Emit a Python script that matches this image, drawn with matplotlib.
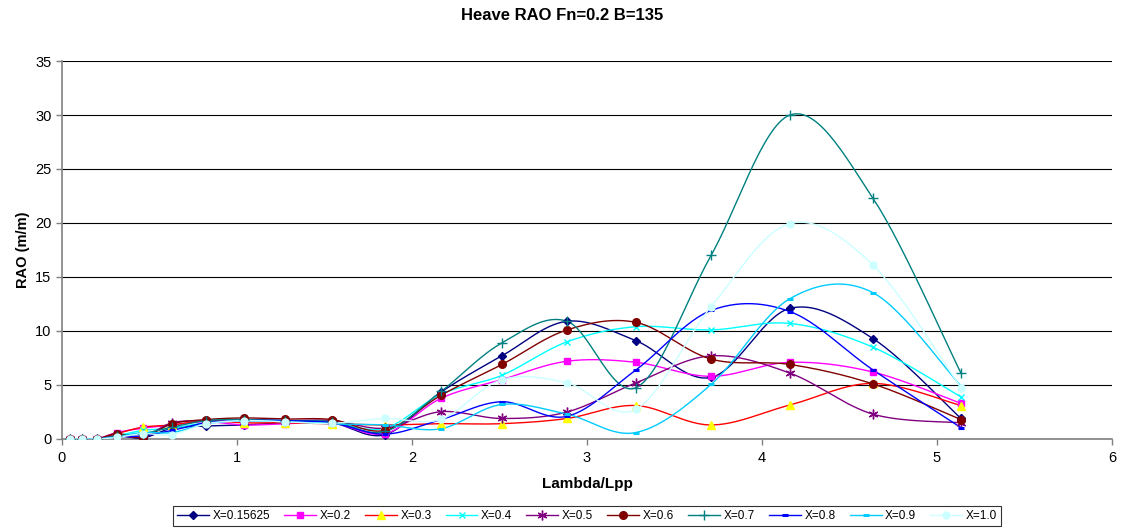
import numpy as np
import matplotlib
matplotlib.use("Agg")
import matplotlib.pyplot as plt

plt.rcParams['font.family'] = ['Liberation Sans', 'DejaVu Sans']

# -------------------------
# DATA
# -------------------------
lam = [0.046, 0.114, 0.2, 0.314, 0.463, 0.629, 0.823, 1.04, 1.274, 1.543,
       1.846, 2.166, 2.514, 2.886, 3.28, 3.709, 4.16, 4.634, 5.137]

labels = ["X=0.15625", "X=0.2", "X=0.3", "X=0.4", "X=0.5",
          "X=0.6", "X=0.7", "X=0.8", "X=0.9", "X=1.0"]

x_015625 = [0, 0, 0, 0.3, 0.1, 1.0, 1.2, 1.3, 1.5, 1.5, 0.4, 4.35, 7.7, 10.9, 9.1, 5.7, 12.1, 9.3, 1.9]
x_02 = [0, 0, 0, 0.6, 1.0, 1.3, 1.6, 1.3, 1.4, 1.5, 0.5, 3.77, 5.5, 7.2, 7.1, 5.8, 7.1, 6.2, 3.3]
x_03 = [0, 0, 0, 0.5, 1.1, 1.3, 1.7, 1.5, 1.5, 1.4, 1.3, 1.42, 1.42, 1.9, 3.1, 1.3, 3.15, 5.15, 3.1]
x_04 = [0, 0, 0, 0.3, 0.8, 1.0, 1.5, 1.7, 1.6, 1.5, 1.0, 4.15, 5.9, 9.0, 10.4, 10.1, 10.7, 8.5, 3.9]
x_05 = [0, 0, 0, 0.3, 0.2, 1.5, 1.7, 1.8, 1.7, 1.7, 1.0, 2.53, 1.9, 2.5, 5.2, 7.7, 6.1, 2.3, 1.5]
x_06 = [0, 0, 0, 0.5, 0.15, 1.4, 1.8, 1.95, 1.85, 1.8, 0.8, 4.05, 6.9, 10.1, 10.8, 7.4, 6.9, 5.1, 1.8]
x_07 = [0, 0, 0, 0.3, 0.5, 1.1, 1.7, 1.8, 1.7, 1.6, 0.7, 4.4, 8.9, 10.9, 4.75, 17.0, 30.0, 22.3, 6.1]
x_08 = [0, 0, 0, 0.2, 0.3, 0.8, 1.5, 1.7, 1.7, 1.5, 0.45, 1.8, 3.45, 2.1, 6.4, 11.9, 11.8, 6.4, 1.05]
x_09 = [0, 0, 0, 0.2, 0.6, 0.6, 1.4, 1.7, 1.6, 1.4, 1.3, 0.95, 3.2, 2.3, 0.6, 5.05, 13.0, 13.55, 4.9]
x_10 = [0, 0, 0, 0.15, 0.5, 0.4, 1.4, 1.7, 1.6, 1.45, 1.9, 1.82, 5.5, 5.2, 2.75, 12.25, 19.95, 16.1, 4.75]

series = [x_015625, x_02, x_03, x_04, x_05, x_06, x_07, x_08, x_09, x_10]

# -------------------------
# STYLES (Excel defaults)
# -------------------------
line_colors = ["#000080", "#FF00FF", "#FF0000", "#00FFFF", "#800080",
               "#800000", "#008080", "#0000FF", "#00CCFF", "#CCFFFF"]
face_colors = ["#000080", "#FF00FF", "#FFFF00", "#00FFFF", "#800080",
               "#800000", "#008080", "#0000FF", "#00CCFF", "#CCFFFF"]
markers = ["D", "s", "^", "x", (6, 2, 0), "o", "+", "_", "_", "o"]
msizes = [4.5, 5, 6, 5, 7, 5.5, 7, 5, 5, 5]


def smooth(x, y, n=30):
    # Excel-style smoothed line: bezier through points
    x = np.asarray(x, float)
    y = np.asarray(y, float)
    px = np.concatenate([[x[0]], x, [x[-1]]])
    py = np.concatenate([[y[0]], y, [y[-1]]])
    t = np.linspace(0, 1, n)
    xs, ys = [], []
    for i in range(1, len(px) - 2):
        p0x, p1x, p2x, p3x = px[i - 1], px[i], px[i + 1], px[i + 2]
        p0y, p1y, p2y, p3y = py[i - 1], py[i], py[i + 1], py[i + 2]
        c1x, c1y = p1x + (p2x - p0x) / 6, p1y + (p2y - p0y) / 6
        c2x, c2y = p2x - (p3x - p1x) / 6, p2y - (p3y - p1y) / 6
        bx = (1 - t) ** 3 * p1x + 3 * (1 - t) ** 2 * t * c1x + 3 * (1 - t) * t ** 2 * c2x + t ** 3 * p2x
        by = (1 - t) ** 3 * p1y + 3 * (1 - t) ** 2 * t * c1y + 3 * (1 - t) * t ** 2 * c2y + t ** 3 * p2y
        xs.append(bx)
        ys.append(by)
    return np.concatenate(xs), np.concatenate(ys)


fig = plt.figure(figsize=(11.24, 5.32), dpi=100)
ax = fig.add_axes([62 / 1124, 1 - 439 / 532, (1112 - 62) / 1124, (439 - 61) / 532])

handles = []
for vals, lab, lc, fc, mk, ms in zip(series, labels, line_colors, face_colors, markers, msizes):
    sx, sy = smooth(lam, vals)
    ax.plot(sx, sy, color=lc, lw=1.0, zorder=3)
    mew = 2.2 if mk == "_" else 1.0
    ax.plot(lam, vals, linestyle="none", marker=mk, markersize=ms,
            markerfacecolor=fc, markeredgecolor=fc, markeredgewidth=mew, zorder=4)
    h, = ax.plot([], [], color=lc, lw=1.0, marker=mk, markersize=ms,
                 markerfacecolor=fc, markeredgecolor=fc, markeredgewidth=mew)
    handles.append(h)

ax.set_xlim(0, 6)
ax.set_ylim(0, 35)
ax.set_xticks(range(0, 7))
ax.set_yticks(range(0, 36, 5))
ax.yaxis.grid(True, color="#000000", lw=0.8)
ax.set_axisbelow(True)
for s in ["top", "right"]:
    ax.spines[s].set_visible(False)
for s in ["left", "bottom"]:
    ax.spines[s].set_color("#808080")
    ax.spines[s].set_linewidth(1.2)
ax.tick_params(axis="both", labelsize=10.5, length=4, color="#808080", width=1)
ax.tick_params(axis="x", pad=5)

ax.set_xlabel("Lambda/Lpp", fontsize=11, fontweight="bold", labelpad=8)
ax.set_ylabel("RAO (m/m)", fontsize=10.5, fontweight="bold", labelpad=4)
fig.text(0.5, 1 - 15 / 532, "Heave RAO Fn=0.2 B=135", ha="center", va="center",
         fontsize=12, fontweight="bold")

leg = fig.legend(handles, labels, loc="center", bbox_to_anchor=(587 / 1124, 1 - 516 / 532),
                 ncol=10, fontsize=8.5, frameon=True, fancybox=False, handlelength=2.7,
                 handletextpad=0.3, columnspacing=1.2, borderpad=0.35)
leg.get_frame().set_edgecolor("#000000")
leg.get_frame().set_linewidth(0.8)

fig.savefig("out.png", dpi=100)
